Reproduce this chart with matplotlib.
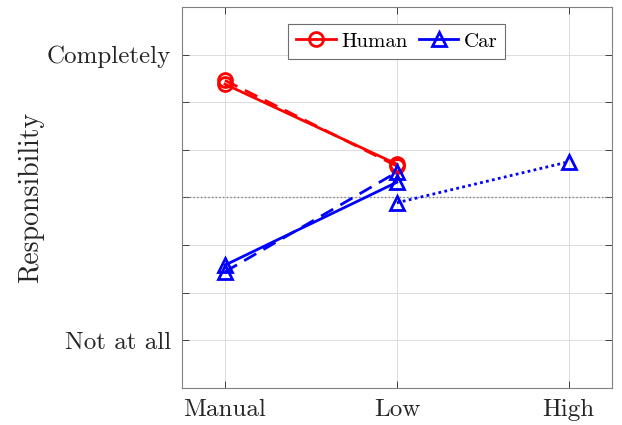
import matplotlib
matplotlib.use("Agg")
import matplotlib.pyplot as plt
from matplotlib.lines import Line2D

plt.rcParams['font.family'] = ['cmr10', 'DejaVu Serif']
plt.rcParams['axes.formatter.use_mathtext'] = True

# Automation levels on the x axis
levels = ['Manual', 'Low', 'High']
level_pos = [1, 2, 3]

# Responsibility ratings (1 = Not at all, 7 = Completely)
human_solid = [6.38, 4.70]
human_dashed = [6.46, 4.66]
car_solid = [2.58, 4.32]
car_dashed = [2.44, 4.53]
car_dotted_x = [2, 3]
car_dotted = [3.89, 4.75]

ytick_vals = [1, 2, 3, 4, 5, 6, 7]
ytick_labels = ['Not at all', '', '', '', '', '', 'Completely']
midpoint = 4

fig = plt.figure(figsize=(6.22, 4.25), dpi=100)
ax = fig.add_axes([0.2926, 0.0871, 0.9834 - 0.2926, 0.9835 - 0.0871])

red = '#ff0000'
blue = '#0000ff'
lw = 2.0
ms = 10
mew = 2.0

ax.axhline(midpoint, color='#808080', linestyle=':', linewidth=1.0, zorder=1)

ax.plot(level_pos[:2], human_solid, color=red, linestyle='-', linewidth=lw,
        marker='o', markersize=ms, markerfacecolor='none', markeredgewidth=mew, zorder=3)
ax.plot(level_pos[:2], human_dashed, color=red, linestyle=(0, (5, 3)), linewidth=lw,
        marker='o', markersize=ms, markerfacecolor='none', markeredgewidth=mew, zorder=3)
ax.plot(level_pos[:2], car_solid, color=blue, linestyle='-', linewidth=lw,
        marker='^', markersize=ms, markerfacecolor='none', markeredgewidth=mew, zorder=3)
ax.plot(level_pos[:2], car_dashed, color=blue, linestyle=(0, (5, 3)), linewidth=lw,
        marker='^', markersize=ms, markerfacecolor='none', markeredgewidth=mew, zorder=3)
ax.plot(car_dotted_x, car_dotted, color=blue, linestyle=(0, (1, 1.2)), linewidth=lw,
        marker='^', markersize=ms, markerfacecolor='none', markeredgewidth=mew, zorder=3)

ax.set_xlim(0.75, 3.25)
ax.set_ylim(0, 8)
ax.set_xticks(level_pos)
ax.set_xticklabels(levels)
ax.set_yticks(ytick_vals)
ax.set_yticklabels(ytick_labels)
ax.tick_params(axis='both', direction='in', length=5, width=0.6, colors='#262626',
               labelsize=18, labelcolor='#262626', top=True, right=True, pad=8)
ax.grid(True, color='#dcdcdc', linewidth=0.7)
ax.set_axisbelow(True)
for sp in ax.spines.values():
    sp.set_color('#808080')
    sp.set_linewidth(0.8)

ax.set_ylabel('Responsibility', fontsize=20, color='#262626', labelpad=2)

handles = [
    Line2D([], [], color=red, linewidth=lw, marker='o', markersize=ms,
           markerfacecolor='none', markeredgewidth=mew),
    Line2D([], [], color=blue, linewidth=lw, marker='^', markersize=ms,
           markerfacecolor='none', markeredgewidth=mew),
]
leg = ax.legend(handles, ['Human', 'Car'], loc='upper center', bbox_to_anchor=(0.5, 0.955),
                ncol=2, fontsize=15, frameon=True, fancybox=False, framealpha=1,
                edgecolor='#6e6e6e', handlelength=1.9, handletextpad=0.25,
                columnspacing=0.55, borderpad=0.38, borderaxespad=0)
leg.get_frame().set_linewidth(0.8)

fig.savefig('out.png', dpi=100, facecolor='white')
